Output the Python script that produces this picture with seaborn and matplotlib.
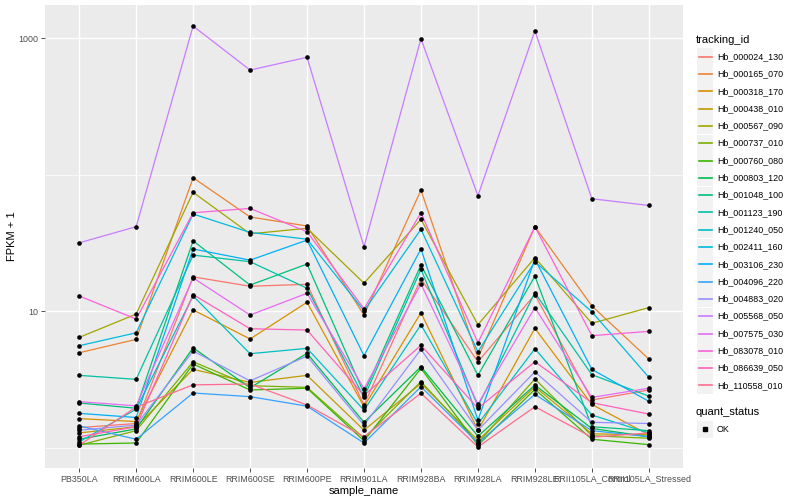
import numpy as np
import pandas as pd
import matplotlib
matplotlib.use("Agg")
import matplotlib.pyplot as plt
import seaborn as sns
from matplotlib.patches import Rectangle
from matplotlib.lines import Line2D

# sample order on the x axis
samples = ["PB350LA", "RRIM600LA", "RRIM600LE", "RRIM600SE", "RRIM600PE", "RRIM901LA",
           "RRIM928BA", "RRIM928LA", "RRIM928LE", "RRII105LA_Control", "RRII105LA_Stressed"]

# FPKM + 1 per gene
hb_000024_130 = [1.40, 1.50, 17.8, 15.2, 15.7, 2.05, 17.2, 4.25, 13.2, 2.23, 2.64]
hb_000165_070 = [4.95, 6.2, 94.8, 48.9, 42.0, 9.35, 76.9, 4.53, 41.5, 10.9, 4.45]
hb_000318_170 = [1.63, 1.55, 10.2, 6.24, 11.6, 1.99, 9.72, 1.34, 7.47, 2.07, 1.24]
hb_000438_010 = [1.28, 1.42, 3.74, 3.0, 3.38, 1.34, 2.95, 1.13, 2.79, 1.26, 1.24]
hb_000567_090 = [6.41, 9.5, 74.1, 36.8, 40.4, 16.0, 47.0, 7.94, 24.6, 8.13, 10.6]
hb_000737_010 = [1.04, 1.33, 4.25, 2.84, 2.76, 1.17, 3.04, 1.08, 3.18, 1.22, 1.17]
hb_000760_080 = [1.06, 1.08, 4.09, 2.64, 2.72, 1.12, 3.8, 1.04, 2.67, 1.15, 1.05]
hb_000803_120 = [1.15, 1.37, 5.38, 2.74, 4.9, 1.53, 3.91, 1.21, 2.87, 1.38, 1.2]
hb_001048_100 = [2.12, 1.94, 32.7, 15.5, 22.1, 2.5, 21.8, 3.38, 18.0, 1.42, 1.33]
hb_001123_190 = [3.38, 3.16, 25.7, 23.0, 14.7, 2.33, 20.2, 2.01, 13.6, 3.42, 2.38]
hb_001240_050 = [1.10, 1.91, 12.9, 4.87, 5.33, 1.88, 7.94, 1.49, 5.3, 1.73, 1.28]
hb_002411_160 = [5.57, 6.93, 51.4, 37.7, 33.6, 10.05, 39.7, 5.03, 23.0, 9.88, 3.27]
hb_003106_230 = [1.78, 1.66, 28.5, 23.6, 33.1, 4.71, 28.5, 1.59, 24.0, 3.74, 2.18]
hb_004096_220 = [1.44, 1.15, 2.51, 2.36, 2.01, 1.08, 2.79, 1.08, 2.45, 1.33, 1.2]
hb_004883_020 = [1.34, 1.46, 5.09, 3.08, 4.68, 1.46, 5.24, 1.34, 3.59, 1.53, 1.5]
hb_005568_050 = [31.6, 41.5, 1225, 583, 723, 29.6, 989, 70, 1130, 66.5, 59.4]
hb_007575_030 = [2.17, 2.02, 17.5, 9.35, 13.5, 2.7, 15.8, 2.08, 10.6, 2.33, 2.72]
hb_083078_010 = [12.9, 8.74, 52.5, 56.5, 38.1, 10.4, 52.5, 5.86, 41.5, 6.6, 7.1]
hb_086639_050 = [1.2, 1.42, 13.2, 7.42, 7.26, 2.41, 5.61, 1.94, 4.25, 2.13, 1.76]
hb_110558_010 = [1.04, 1.98, 2.88, 2.92, 2.05, 1.2, 2.5, 1.01, 1.99, 1.19, 1.28]

tracking_ids = ["Hb_000024_130", "Hb_000165_070", "Hb_000318_170", "Hb_000438_010",
                "Hb_000567_090", "Hb_000737_010", "Hb_000760_080", "Hb_000803_120",
                "Hb_001048_100", "Hb_001123_190", "Hb_001240_050", "Hb_002411_160",
                "Hb_003106_230", "Hb_004096_220", "Hb_004883_020", "Hb_005568_050",
                "Hb_007575_030", "Hb_083078_010", "Hb_086639_050", "Hb_110558_010"]
series = [hb_000024_130, hb_000165_070, hb_000318_170, hb_000438_010, hb_000567_090,
          hb_000737_010, hb_000760_080, hb_000803_120, hb_001048_100, hb_001123_190,
          hb_001240_050, hb_002411_160, hb_003106_230, hb_004096_220, hb_004883_020,
          hb_005568_050, hb_007575_030, hb_083078_010, hb_086639_050, hb_110558_010]

# ggplot default hue palette for 20 levels
colors = ["#F8766D", "#EA8331", "#D89000", "#C09B00", "#A3A500", "#7CAE00", "#39B600",
          "#00BB4E", "#00BF7D", "#00C1A3", "#00BFC4", "#00BAE0", "#00B0F6", "#35A2FF",
          "#9590FF", "#C77CFF", "#E76BF3", "#FA62DB", "#FF62BC", "#FF6C91"]

rows = []
for tid, vals in zip(tracking_ids, series):
    for s, v in zip(samples, vals):
        rows.append({"tracking_id": tid, "sample_name": s, "fpkm": v, "quant_status": "OK"})
df = pd.DataFrame(rows)
df["x"] = df["sample_name"].map({s: i for i, s in enumerate(samples)})

plt.rcParams["font.family"] = ["Liberation Sans", "DejaVu Sans"]
W, H = 800, 500
fig = plt.figure(figsize=(8, 5), dpi=100)
fig.patch.set_facecolor("white")

ax = fig.add_axes([45 / W, 32 / H, 638 / W, 463 / H])
ax.set_facecolor("#EBEBEB")
ax.set_yscale("log")

sns.lineplot(data=df, x="x", y="fpkm", hue="tracking_id", palette=colors,
             estimator=None, errorbar=None, sort=False, legend=False,
             linewidth=0.9, ax=ax, zorder=3)
sns.scatterplot(data=df, x="x", y="fpkm", color="black", s=11, linewidth=0,
                legend=False, ax=ax, zorder=4)

# axis limits like ggplot's expansion
ax.set_xlim(-0.6, len(samples) - 1 + 0.6)
lo, hi = np.log10(df["fpkm"].min()), np.log10(df["fpkm"].max())
pad = (hi - lo) * 0.05
ax.set_ylim(10 ** (lo - pad), 10 ** (hi + pad))

ax.set_xticks(range(len(samples)))
ax.set_xticklabels(samples)
ax.set_yticks([10, 1000])
ax.set_yticklabels(["10", "1000"])
ax.set_yticks([1, 100], minor=True)
ax.yaxis.set_minor_formatter(matplotlib.ticker.NullFormatter())
ax.set_xticks([], minor=True)

ax.grid(which="major", color="white", linewidth=1.0, zorder=0)
ax.grid(which="minor", axis="y", color="white", linewidth=0.5, zorder=0)
ax.set_axisbelow(True)
for sp in ax.spines.values():
    sp.set_visible(False)
ax.tick_params(which="major", length=2.7, width=0.6, color="#333333",
               labelsize=6.4, labelcolor="#4D4D4D", pad=2)
ax.tick_params(which="minor", length=0)

ax.set_xlabel("sample_name", fontsize=8, labelpad=2)
ax.set_ylabel("FPKM + 1", fontsize=8, labelpad=1)

# legend drawn like ggplot's guide boxes
def fy(py):
    return 1 - py / H

fig.text(696 / W, fy(40), "tracking_id", fontsize=8, va="center", ha="left")
for i, (tid, c) in enumerate(zip(tracking_ids, colors)):
    yc = 56.7 + i * 17.3
    fig.patches.append(Rectangle((697 / W, fy(yc + 8.5)), 16 / W, 17 / H,
                                 transform=fig.transFigure, facecolor="#F2F2F2",
                                 edgecolor="none", zorder=1))
    fig.lines.append(Line2D([698.5 / W, 711.5 / W], [fy(yc), fy(yc)],
                            transform=fig.transFigure, color=c, linewidth=1.2, zorder=2))
    fig.text(717 / W, fy(yc), tid, fontsize=6.4, va="center", ha="left")

fig.text(696 / W, fy(412), "quant_status", fontsize=8, va="center", ha="left")
fig.patches.append(Rectangle((697 / W, fy(429 + 8.5)), 16 / W, 17 / H,
                             transform=fig.transFigure, facecolor="#F2F2F2",
                             edgecolor="none", zorder=1))
fig.lines.append(Line2D([705 / W], [fy(429)], transform=fig.transFigure,
                        marker="s", markersize=2.6, color="black", linestyle="none",
                        zorder=2))
fig.text(717 / W, fy(429), "OK", fontsize=6.4, va="center", ha="left")

fig.savefig("out.png", dpi=100)
